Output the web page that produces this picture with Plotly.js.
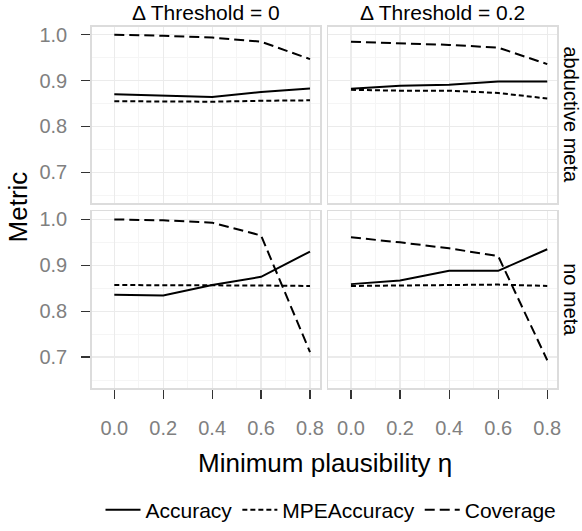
<!DOCTYPE html>
<html>
<head>
<meta charset="utf-8">
<script src="https://cdn.plot.ly/plotly-3.0.1.min.js"></script>
<style>html,body{margin:0;padding:0;background:#fff}#chart{width:582px;height:531px}</style>
</head>
<body>
<div id="chart"></div>
<script>
// ---- data ----
const eta = [0, 0.2, 0.4, 0.6, 0.8];
const columnLabels = ["\u0394 Threshold = 0", "\u0394 Threshold = 0.2"];
const rowLabels = ["abductive meta", "no meta"];
const seriesNames = ["Accuracy", "MPEAccuracy", "Coverage"];

// abductive meta, Δ Threshold = 0
const accAbd0 = [0.870, 0.867, 0.864, 0.875, 0.883];
const mpeAbd0 = [0.855, 0.855, 0.854, 0.856, 0.857];
const covAbd0 = [1.000, 0.998, 0.994, 0.985, 0.947];
// abductive meta, Δ Threshold = 0.2
const accAbd2 = [0.882, 0.889, 0.891, 0.898, 0.898];
const mpeAbd2 = [0.880, 0.878, 0.878, 0.873, 0.861];
const covAbd2 = [0.985, 0.982, 0.978, 0.972, 0.936];
// no meta, Δ Threshold = 0
const accNo0 = [0.836, 0.834, 0.857, 0.875, 0.930];
const mpeNo0 = [0.857, 0.857, 0.857, 0.856, 0.855];
const covNo0 = [1.000, 0.998, 0.993, 0.965, 0.711];
// no meta, Δ Threshold = 0.2
const accNo2 = [0.859, 0.867, 0.888, 0.888, 0.935];
const mpeNo2 = [0.855, 0.856, 0.857, 0.858, 0.855];
const covNo2 = [0.961, 0.950, 0.937, 0.920, 0.693];

const xTicks = [0, 0.2, 0.4, 0.6, 0.8];
const xTickText = ["0.0", "0.2", "0.4", "0.6", "0.8"];
const yTicks = [0.7, 0.8, 0.9, 1.0];
const yTickText = ["0.7", "0.8", "0.9", "1.0"];

// ---- build ----
const W = 582, H = 531;
const FONT = "Liberation Sans, Arial, sans-serif";
const dashes = ["solid", "5px,3px", "10px,5px"];
const panels = [
  {ax: "", vals: [accAbd0, mpeAbd0, covAbd0]},
  {ax: "2", vals: [accAbd2, mpeAbd2, covAbd2]},
  {ax: "3", vals: [accNo0, mpeNo0, covNo0]},
  {ax: "4", vals: [accNo2, mpeNo2, covNo2]}
];
const traces = [];
panels.forEach((p, pi) => {
  p.vals.forEach((v, si) => {
    traces.push({
      type: "scatter", mode: "lines", x: eta, y: v,
      xaxis: "x" + p.ax, yaxis: "y" + p.ax,
      name: seriesNames[si], legendgroup: seriesNames[si],
      showlegend: pi === 0,
      line: {color: "#000000", width: 2, dash: dashes[si]},
      hoverinfo: "skip"
    });
  });
});

const xL = [91.7 / W, 320 / W], xR = [328.3 / W, 557.3 / W];
const yT = [1 - 204.7 / H, 1 - 27 / H], yB = [1 - 391 / H, 1 - 213 / H];
const xRange = [-0.0924, 0.8409];
const yRange = [0.6325, 1.0175];

function xax(dom, anchor, labels) {
  return {
    domain: dom, anchor: anchor, range: xRange, fixedrange: true,
    tickvals: xTicks, ticktext: xTickText,
    showticklabels: labels, ticks: labels ? "outside" : "",
    ticklen: 9, tickwidth: 1.2, tickcolor: "#333333",
    tickfont: {family: FONT, size: 20, color: "#808080"},
    ticklabelstandoff: 12,
    showgrid: true, gridcolor: "#ebebeb", gridwidth: 1.2,
    minor: {dtick: 0.1, tick0: 0, showgrid: true, gridcolor: "#f5f5f5", gridwidth: 1},
    zeroline: false, showline: true, mirror: true, linecolor: "#dcdcdc", linewidth: 1.5
  };
}
function yax(dom, anchor, labels) {
  return {
    domain: dom, anchor: anchor, range: yRange, fixedrange: true,
    tickvals: yTicks, ticktext: yTickText,
    showticklabels: labels, ticks: labels ? "outside" : "",
    ticklen: 9, tickwidth: 1.2, tickcolor: "#333333",
    tickfont: {family: FONT, size: 20, color: "#808080"},
    ticklabelstandoff: 10,
    showgrid: true, gridcolor: "#ebebeb", gridwidth: 1.2,
    minor: {dtick: 0.05, tick0: 0, showgrid: true, gridcolor: "#f5f5f5", gridwidth: 1},
    zeroline: false, showline: true, mirror: true, linecolor: "#dcdcdc", linewidth: 1.5
  };
}

const annotations = [
  {text: columnLabels[0], x: (xL[0] + xL[1]) / 2, y: 1 - 13 / H, size: 21},
  {text: columnLabels[1], x: (xR[0] + xR[1]) / 2, y: 1 - 13 / H, size: 21},
  {text: rowLabels[0], x: 571.5 / W, y: (yT[0] + yT[1]) / 2, textangle: 90, size: 20},
  {text: rowLabels[1], x: 571.5 / W, y: (yB[0] + yB[1]) / 2, textangle: 90, size: 20},
].map(a => {
  const o = Object.assign({xref: "paper", yref: "paper", showarrow: false,
    xanchor: "center", yanchor: "middle", font: {family: FONT, size: a.size, color: "#000"}}, a);
  delete o.size; return o;
});
annotations.push({text: "Minimum plausibility \u03b7", xref: "paper", yref: "paper",
  x: (xL[0] + xR[1]) / 2, y: 1 - 467 / H, showarrow: false, xanchor: "center", yanchor: "middle",
  font: {family: FONT, size: 26, color: "#000"}});
annotations.push({text: "Metric", xref: "paper", yref: "paper", textangle: -90,
  x: 18 / W, y: (yT[1] + yB[0]) / 2, showarrow: false, xanchor: "center", yanchor: "middle",
  font: {family: FONT, size: 26, color: "#000"}});

const layout = {
  width: W, height: H, margin: {l: 0, r: 0, t: 0, b: 0},
  paper_bgcolor: "#ffffff", plot_bgcolor: "#ffffff",
  font: {family: FONT},
  xaxis: xax(xL, "y", false), yaxis: yax(yT, "x", true),
  xaxis2: xax(xR, "y2", false), yaxis2: yax(yT, "x2", false),
  xaxis3: xax(xL, "y3", true), yaxis3: yax(yB, "x3", true),
  xaxis4: xax(xR, "y4", true), yaxis4: yax(yB, "x4", false),
  showlegend: true,
  legend: {orientation: "h", x: 331 / W, xanchor: "center", y: 1 - 514 / H, yanchor: "middle",
    font: {family: FONT, size: 21, color: "#000"}, itemwidth: 35, tracegroupgap: 0,
    bgcolor: "rgba(0,0,0,0)"},
  annotations: annotations
};

Plotly.newPlot("chart", traces, layout, {staticPlot: true, displayModeBar: false});
</script>
</body>
</html>
